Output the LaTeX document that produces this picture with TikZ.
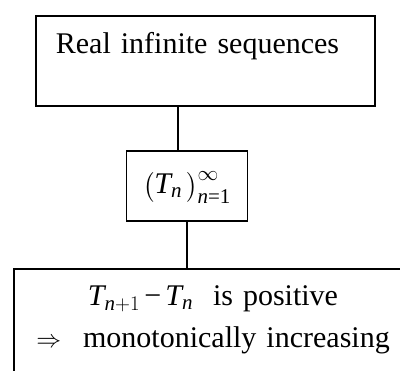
\documentclass[tikz,border=0pt]{standalone}
\usepackage{amsmath}
\usepackage{fontspec}
\setmainfont{Liberation Serif}
\usetikzlibrary{positioning}
\newcommand{\vT}{\text{\itshape T}}
\newcommand{\vn}{\text{\itshape n}}

\begin{document}
\begin{tikzpicture}[
    x=1pt, y=1pt,
    box/.style={draw=black, line width=1.8pt, inner sep=0pt,
                font=\fontsize{30}{42}\selectfont},
    link/.style={line width=1.8pt, black}
]
\useasboundingbox (0,0) rectangle (400,-371);
\clip (0,0) rectangle (400,-371);
\node[box, anchor=north west, text width=299pt, align=left, inner xsep=20pt] (seqs) at (35,-15)
    {\rule[-52pt]{0pt}{90pt}Real infinite sequences};
\node[box, anchor=north, minimum width=121pt, text height=43pt, text depth=27pt] (term) at (187,-150)
    {$\bigl(\vT_{\vn}\,\bigr)^{\infty}_{\vn\text{=1}}$};
\node[box, anchor=north, text width=378pt, align=center, inner xsep=10pt] (mono) at (213,-268)
    {\rule{0pt}{37pt}$\vT_{\vn+1}\mkern3mu\text{\char"2212}\mkern3mu\vT_{\vn}$\hspace{20pt}is positive\\
     $\Rightarrow$\hspace{22pt}monotonically increasing\rule[-40pt]{0pt}{40pt}};
\coordinate (upjoin) at (178,0);
\draw[link] (seqs.south -| upjoin) -- (term.north -| upjoin);
\draw[link] (term.south) -- (mono.north -| term.south);
\end{tikzpicture}
\end{document}
